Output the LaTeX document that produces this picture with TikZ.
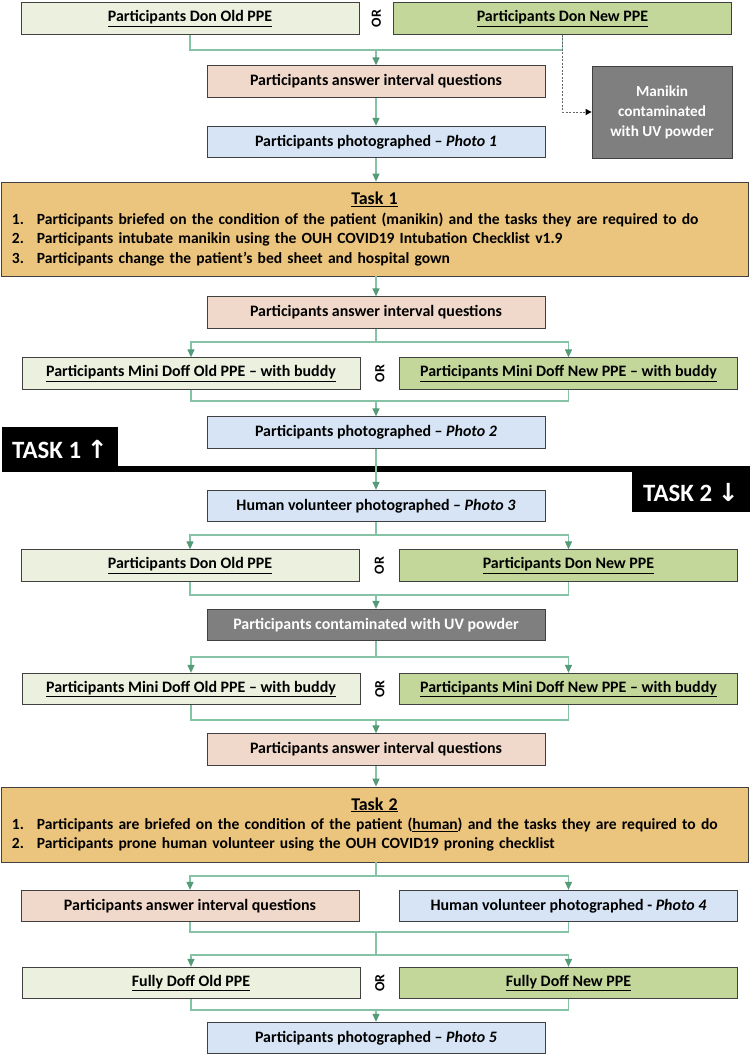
\documentclass[tikz,border=0pt]{standalone}
\usepackage{fontspec}
\setmainfont{Carlito}
\newfontfamily\arrowfont{DejaVu Sans}
\usetikzlibrary{positioning,arrows.meta,calc}

\definecolor{oldfill}{HTML}{EBF1DE}
\definecolor{newfill}{HTML}{C4D79B}
\definecolor{askfill}{HTML}{F0D8CA}
\definecolor{photofill}{HTML}{D6E4F5}
\definecolor{taskfill}{HTML}{EBC47E}
\definecolor{uvgrey}{HTML}{7F7F7F}
\definecolor{linkline}{HTML}{86C2A5}
\definecolor{linktip}{HTML}{559B78}

\tikzstyle{box} = [draw=black!75, line width=0.8bp, minimum height=31.5bp, minimum width=338bp, inner sep=2bp, font=\bfseries\fontsize{16}{18}\selectfont]
\tikzstyle{oldbox} = [box, fill=oldfill]
\tikzstyle{newbox} = [box, fill=newfill]
\tikzstyle{askbox} = [box, fill=askfill]
\tikzstyle{photobox} = [box, fill=photofill]
\tikzstyle{greybox} = [box, fill=uvgrey, text=white]
\tikzstyle{taskbox} = [draw=black!75, line width=0.8bp, fill=taskfill, minimum width=747bp, text width=725bp, inner xsep=11bp, font=\bfseries\fontsize{15.6}{19.5}\selectfont]
\tikzstyle{ortext} = [rotate=90, inner sep=0pt, font=\bfseries\fontsize{14}{14}\selectfont]
\tikzstyle{tasktag} = [fill=black, text=white, inner sep=0pt, font=\bfseries\fontsize{25}{27}\selectfont]
\tikzstyle{link} = [draw=linkline, line width=1.2bp]
\tikzstyle{flow} = [link, -{Triangle[length=8bp,width=7bp,color=linktip]}]
\tikzstyle{dashlink} = [draw=black!60, line width=1bp, dash pattern=on 2bp off 1.5bp, -{Triangle[length=6bp,width=6bp,color=black]}]

\newcommand{\tasktitle}[1]{{\centering\fontsize{18}{22}\selectfont\underline{#1}\par}}
\newcommand{\taskitem}[1]{\makebox[25bp][l]{#1}}

\begin{document}
\begin{tikzpicture}[x=1bp, y=-1bp]
		\useasboundingbox (0,0) rectangle (750,1057);
		% Nodes: task 1
		\node[oldbox] (donold1) at (190,18.5) {\underline{Participants Don Old PPE}};
		\node[newbox] (donnew1) at (562.5,18.5) {\underline{Participants Don New PPE}};
		\node[ortext] (or1) at ($(donold1.east)!0.5!(donnew1.west)$) {OR};
		\node[askbox] (ask1) at (376,81.5) {Participants answer interval questions};
		\node[photobox] (photo1) at (376,142) {Participants photographed – \textit{Photo 1}};
		\node[greybox, minimum width=140bp, minimum height=92bp, align=center, font=\bfseries\fontsize{15.3}{20}\selectfont] (manikin) at (662,112) {Manikin\\contaminated\\with UV powder};
		\node[taskbox, minimum height=94bp] (task1) at (374.5,229) {\tasktitle{Task 1}
			\taskitem{1.}Participants briefed on the condition of the patient (manikin) and the tasks they are required to do\par
			\taskitem{2.}Participants intubate manikin using the OUH COVID19 Intubation Checklist v1.9\par
			\taskitem{3.}Participants change the patient’s bed sheet and hospital gown};
		\node[askbox] (ask2) at (376,312.5) {Participants answer interval questions};
		\node[oldbox] (miniold1) at (191,373.5) {\underline{Participants Mini Doff Old PPE – with buddy}};
		\node[newbox] (mininew1) at (568.5,373.5) {\underline{Participants Mini Doff New PPE – with buddy}};
		\node[ortext] (or2) at ($(miniold1.east)!0.5!(mininew1.west)$) {OR};
		\node[photobox] (photo2) at (376,432.5) {Participants photographed – \textit{Photo 2}};
		% Task divider
		\node[tasktag, minimum width=116bp, minimum height=45bp] (tag1) at (60,449.5) {TASK 1 {\arrowfont ↑}};
		\node[tasktag, minimum width=118bp, minimum height=40bp] (tag2) at (691,492) {TASK 2 {\arrowfont ↓}};
		\fill (tag1.south east) ++(0,-6) rectangle (tag2.north east);
		% Nodes: task 2
		\node[photobox] (photo3) at (376,506) {Human volunteer photographed – \textit{Photo 3}};
		\node[oldbox] (donold2) at (190,565.5) {\underline{Participants Don Old PPE}};
		\node[newbox] (donnew2) at (568.5,565.5) {\underline{Participants Don New PPE}};
		\node[ortext] (or3) at ($(donold2.east)!0.5!(donnew2.west)$) {OR};
		\node[greybox] (uvdust) at (376,625) {Participants contaminated with UV powder};
		\node[oldbox] (miniold2) at (191,689) {\underline{Participants Mini Doff Old PPE – with buddy}};
		\node[newbox] (mininew2) at (568.5,689) {\underline{Participants Mini Doff New PPE – with buddy}};
		\node[ortext] (or4) at ($(miniold2.east)!0.5!(mininew2.west)$) {OR};
		\node[askbox] (ask3) at (376,749.5) {Participants answer interval questions};
		\node[taskbox, minimum height=75bp] (task2) at (374.5,824.5) {\tasktitle{Task 2}
			\taskitem{1.}Participants are briefed on the condition of the patient (\underline{human}) and the tasks they are required to do\par
			\taskitem{2.}Participants prone human volunteer using the OUH COVID19 proning checklist};
		\node[askbox] (ask4) at (190,906) {Participants answer interval questions};
		\node[photobox] (photo4) at (568.5,906) {Human volunteer photographed - \textit{Photo 4}};
		\node[oldbox] (fullold) at (191,983) {\underline{Fully Doff Old PPE}};
		\node[newbox] (fullnew) at (568.5,983) {\underline{Fully Doff New PPE}};
		\node[ortext] (or5) at ($(fullold.east)!0.5!(fullnew.west)$) {OR};
		\node[photobox] (photo5) at (376,1038) {Participants photographed – \textit{Photo 5}};
		% Junctions
		\coordinate (m1) at (376,50);
		\coordinate (f1) at (376,342);
		\coordinate (m2) at (376,401);
		\coordinate (f2) at (376,535);
		\coordinate (m3) at (376,595);
		\coordinate (f3) at (376,657);
		\coordinate (m4) at (376,720);
		\coordinate (f4) at (376,876);
		\coordinate (m5) at (376,932);
		\coordinate (f5) at (376,955);
		\coordinate (m6) at (376,1010);
		% Arrows
		\draw[link] (donold1) |- (m1) -| (donnew1);
		\draw[flow] (m1) -- (ask1);
		\draw[dashlink] (donnew1.south) |- (manikin.west);
		\draw[flow] (ask1) -- (photo1);
		\draw[flow] (photo1) -- (task1.north -| photo1);
		\draw[flow] (task1.south -| ask2) -- (ask2);
		\draw[link] (ask2) -- (f1);
		\draw[flow] (f1) -| (miniold1);
		\draw[flow] (f1) -| (mininew1);
		\draw[link] (miniold1) |- (m2) -| (mininew1);
		\draw[flow] (m2) -- (photo2);
		\draw[flow] (photo2) -- (photo3);
		\draw[link] (photo3) -- (f2);
		\draw[flow] (f2) -| (donold2);
		\draw[flow] (f2) -| (donnew2);
		\draw[link] (donold2) |- (m3) -| (donnew2);
		\draw[flow] (m3) -- (uvdust);
		\draw[link] (uvdust) -- (f3);
		\draw[flow] (f3) -| (miniold2);
		\draw[flow] (f3) -| (mininew2);
		\draw[link] (miniold2) |- (m4) -| (mininew2);
		\draw[flow] (m4) -- (ask3);
		\draw[flow] (ask3) -- (task2.north -| ask3);
		\draw[link] (task2.south -| f4) -- (f4);
		\draw[flow] (f4) -| (ask4);
		\draw[flow] (f4) -| (photo4);
		\draw[link] (ask4) |- (m5) -| (photo4);
		\draw[link] (m5) -- (f5);
		\draw[flow] (f5) -| (fullold);
		\draw[flow] (f5) -| (fullnew);
		\draw[link] (fullold) |- (m6) -| (fullnew);
		\draw[flow] (m6) -- (photo5);
\end{tikzpicture}
\end{document}
